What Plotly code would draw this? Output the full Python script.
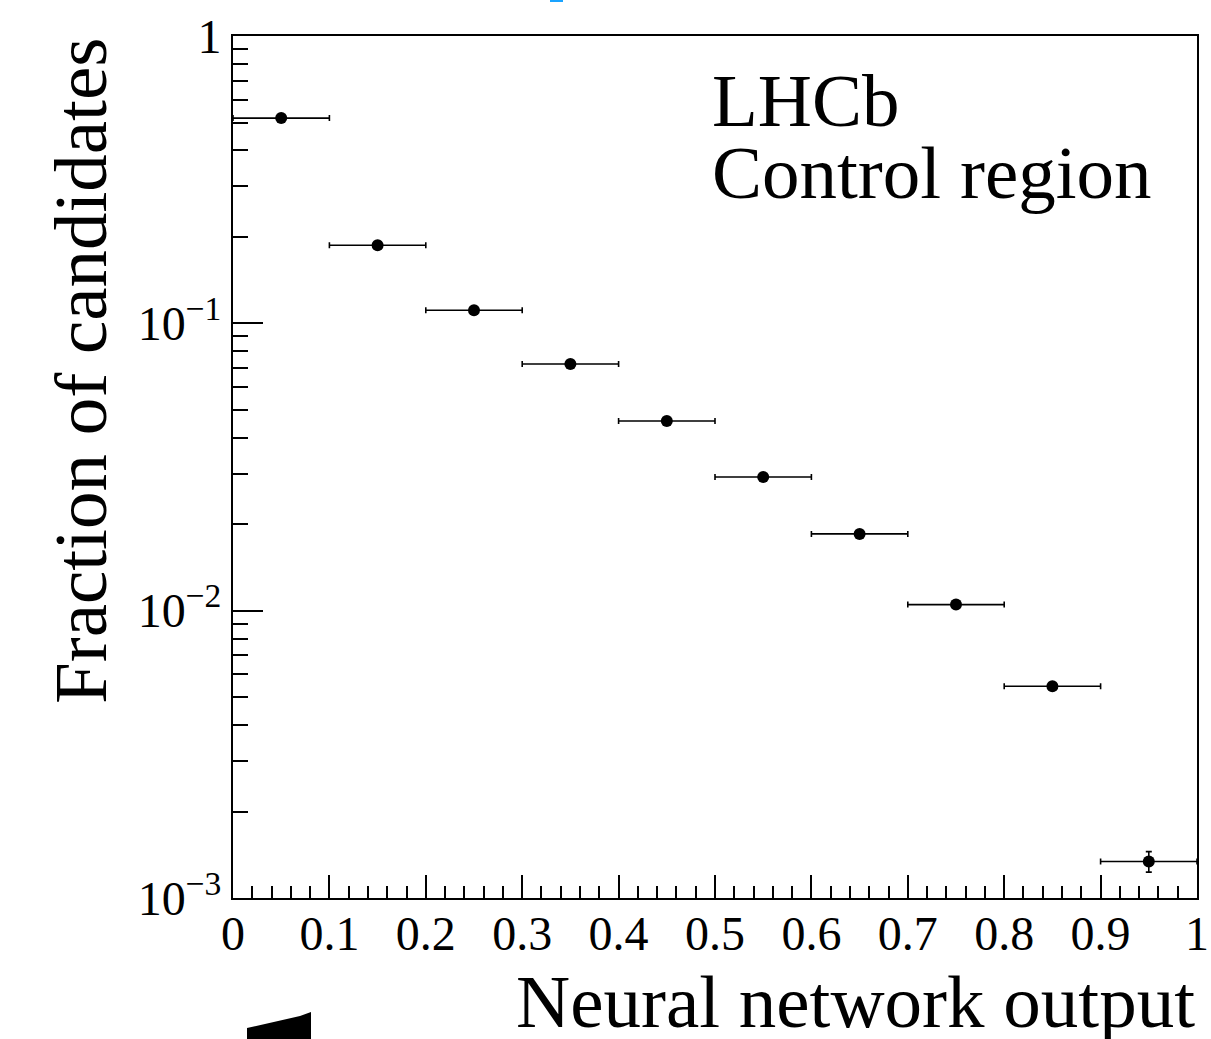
import plotly.graph_objects as go

# Data
bin_centers = [0.05, 0.15, 0.25, 0.35, 0.45, 0.55, 0.65, 0.75, 0.85, 0.95]
bin_half_width = [0.05] * 10
fraction = [0.518, 0.187, 0.111, 0.0722, 0.0457, 0.0292, 0.0185, 0.0105, 0.00546, 0.00134]
fraction_err = [0.003, 0.0015, 0.001, 0.0007, 0.0005, 0.0003, 0.0002, 0.00015, 0.0001, 0.00011]

y_tickvals = [1e-3, 1e-2, 1e-1, 1]
y_ticktext = ["10<sup>\u22123</sup>", "10<sup>\u22122</sup>", "10<sup>\u22121</sup>", "1"]
y_minor = [m * 10 ** e for e in (-3, -2, -1) for m in range(2, 10)]
x_tickvals = [0, 0.1, 0.2, 0.3, 0.4, 0.5, 0.6, 0.7, 0.8, 0.9, 1]
x_ticktext = ["0", "0.1", "0.2", "0.3", "0.4", "0.5", "0.6", "0.7", "0.8", "0.9", "1"]

FONT = "Liberation Serif, Times New Roman, serif"

fig = go.Figure()
fig.add_trace(go.Scatter(
    x=bin_centers, y=fraction, mode="markers",
    marker=dict(color="black", size=12),
    error_x=dict(type="data", array=bin_half_width, color="black", thickness=1.6, width=3),
    error_y=dict(type="data", array=fraction_err, color="black", thickness=1.6, width=3),
    showlegend=False, cliponaxis=False,
))

fig.update_layout(
    width=1211, height=1039,
    margin=dict(l=233, r=14, t=36, b=141, autoexpand=False),
    paper_bgcolor="white", plot_bgcolor="white",
    font=dict(family=FONT, color="black"),
    xaxis=dict(
        range=[0, 1], showgrid=False, zeroline=False, automargin=False,
        showline=True, linecolor="black", linewidth=2, mirror=True,
        ticks="inside", ticklen=23, tickwidth=2, tickcolor="black",
        tickmode="array", tickvals=x_tickvals, ticktext=x_ticktext,
        tickfont=dict(size=48, family=FONT), ticklabelstandoff=-8,
        minor=dict(ticks="inside", ticklen=12, tickwidth=2, tickcolor="black", dtick=0.02),
    ),
    yaxis=dict(
        type="log", range=[-3, 0], showgrid=False, zeroline=False, automargin=False,
        showline=True, linecolor="black", linewidth=2, mirror=True,
        ticks="inside", ticklen=30, tickwidth=2, tickcolor="black",
        tickmode="array", tickvals=y_tickvals, ticktext=y_ticktext,
        tickfont=dict(size=48, family=FONT),
        minor=dict(ticks="inside", ticklen=15, tickwidth=2, tickcolor="black",
                   tickmode="array", tickvals=y_minor),
    ),
    annotations=[
        dict(text="Neural network output", xref="paper", yref="paper",
             x=1.0, y=-(958 - 898) / 862, xanchor="right", yanchor="top", showarrow=False,
             font=dict(size=75, family=FONT)),
        dict(text="Fraction of candidates", xref="paper", yref="paper",
             x=(80 - 233) / 964, y=1.0, xanchor="center", yanchor="top",
             textangle=-90, showarrow=False, font=dict(size=75, family=FONT)),
        dict(text="LHCb", xref="paper", yref="paper",
             x=(710 - 233) / 964, y=1 - (57 - 36) / 862, xanchor="left", yanchor="top",
             showarrow=False, font=dict(size=75, family=FONT)),
        dict(text="Control region", xref="paper", yref="paper",
             x=(710 - 233) / 964, y=1 - (129 - 36) / 862, xanchor="left", yanchor="top",
             showarrow=False, font=dict(size=75, family=FONT)),
    ],
    shapes=[
        dict(type="rect", xref="paper", yref="paper",
             x0=(550 - 233) / 964, x1=(563 - 233) / 964,
             y0=1 + 34 / 862, y1=1 + 36 / 862,
             fillcolor="#1aa3ff", line=dict(width=0)),
        dict(type="path", xref="paper", yref="paper",
             path="M {} {} L {} {} L {} {} L {} {} L {} {} Z".format(
                 (247 - 233) / 964, 1 - (1039 - 36) / 862,
                 (247 - 233) / 964, 1 - (1028 - 36) / 862,
                 (300 - 233) / 964, 1 - (1016 - 36) / 862,
                 (311 - 233) / 964, 1 - (1012 - 36) / 862,
                 (311 - 233) / 964, 1 - (1039 - 36) / 862),
             fillcolor="black", line=dict(width=0)),
    ],
)

fig.write_html("out.html")
